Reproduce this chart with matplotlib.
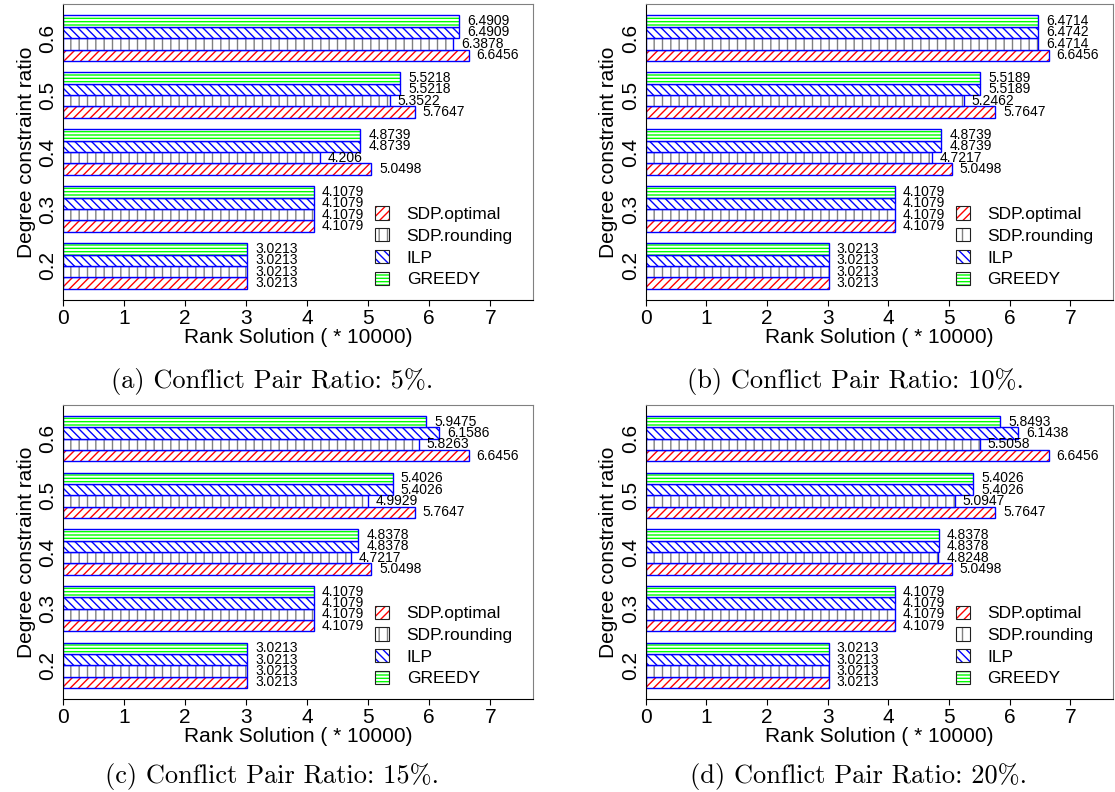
import matplotlib
matplotlib.use('Agg')
import matplotlib.pyplot as plt
import numpy as np
from matplotlib.patches import Patch
from matplotlib.legend_handler import HandlerTuple

plt.rcParams['font.family'] = ['Liberation Sans', 'DejaVu Sans']
plt.rcParams['hatch.linewidth'] = 1.0

# data
ratios = ['0.2', '0.3', '0.4', '0.5', '0.6']
series = ['SDP.optimal', 'SDP.rounding', 'ILP', 'GREEDY']

sdp_optimal = [3.0213, 4.1079, 5.0498, 5.7647, 6.6456]

a_rounding = [3.0213, 4.1079, 4.206, 5.3522, 6.3878]
a_ilp = [3.0213, 4.1079, 4.8739, 5.5218, 6.4909]
a_greedy = [3.0213, 4.1079, 4.8739, 5.5218, 6.4909]

b_rounding = [3.0213, 4.1079, 4.7217, 5.2462, 6.4714]
b_ilp = [3.0213, 4.1079, 4.8739, 5.5189, 6.4742]
b_greedy = [3.0213, 4.1079, 4.8739, 5.5189, 6.4714]

c_rounding = [3.0213, 4.1079, 4.7217, 4.9929, 5.8263]
c_ilp = [3.0213, 4.1079, 4.8378, 5.4026, 6.1586]
c_greedy = [3.0213, 4.1079, 4.8378, 5.4026, 5.9475]

d_rounding = [3.0213, 4.1079, 4.8248, 5.0947, 5.5058]
d_ilp = [3.0213, 4.1079, 4.8378, 5.4026, 6.1438]
d_greedy = [3.0213, 4.1079, 4.8378, 5.4026, 5.8493]

captions = ['(a) Conflict Pair Ratio: 5%.', '(b) Conflict Pair Ratio: 10%.',
            '(c) Conflict Pair Ratio: 15%.', '(d) Conflict Pair Ratio: 20%.']

panels = [
    [sdp_optimal, a_rounding, a_ilp, a_greedy],
    [sdp_optimal, b_rounding, b_ilp, b_greedy],
    [sdp_optimal, c_rounding, c_ilp, c_greedy],
    [sdp_optimal, d_rounding, d_ilp, d_greedy],
]

hatches = ['////', '||', '\\\\\\\\', '-----']
hcolors = ['#ff0000', '#808080', '#0000ff', '#00ff00']
offsets = [-0.3, -0.1, 0.1, 0.3]

fig = plt.figure(figsize=(11.15, 7.92), dpi=100)
boxes = [[0.0565, 0.621, 0.4215, 0.374],
         [0.579, 0.621, 0.419, 0.374],
         [0.0565, 0.117, 0.4215, 0.372],
         [0.579, 0.117, 0.419, 0.372]]
cap_pos = [(0.244, 0.518), (0.767, 0.518), (0.244, 0.02), (0.770, 0.02)]

centers = np.arange(1, len(ratios) + 1)

for p, vals in enumerate(panels):
    ax = fig.add_axes(boxes[p])
    for k in range(4):
        y = centers + offsets[k]
        # hatched fill
        ax.barh(y, vals[k], height=0.2, color='white', edgecolor=hcolors[k],
                hatch=hatches[k], linewidth=0)
        # blue outline
        ax.barh(y, vals[k], height=0.2, fill=False, edgecolor='#0000ff', linewidth=1.0)
        for yy, v in zip(y, vals[k]):
            ax.text(v + 0.13, yy, str(v), va='center', ha='left', fontsize=10)

    ax.set_xlim(0, 7.7)
    ax.set_ylim(0.4, 5.6)
    ax.set_xticks(range(8))
    ax.set_yticks(centers)
    ax.set_yticklabels(ratios, rotation=90, va='center')
    ax.tick_params(axis='x', direction='out', length=4, labelsize=15, pad=2)
    ax.tick_params(axis='y', length=0, labelsize=15, pad=4)
    ax.set_xlabel('Rank Solution ( * 10000)', fontsize=15, labelpad=0)
    ax.set_ylabel('Degree constraint ratio', fontsize=15, labelpad=2)
    ax.spines['top'].set_color('#808080')
    ax.spines['right'].set_color('#808080')

    handles = []
    for k in range(4):
        h1 = Patch(facecolor='white', edgecolor=hcolors[k], hatch=hatches[k], linewidth=0)
        h2 = Patch(fill=False, edgecolor='#202020', linewidth=0.8)
        handles.append((h1, h2))
    ax.legend(handles, series, handler_map={tuple: HandlerTuple(ndivide=1, pad=0)},
              loc='lower left', bbox_to_anchor=(0.65, 0.02), frameon=False,
              fontsize=12.5, handlelength=0.8, handleheight=0.8,
              handletextpad=1.0, labelspacing=0.35, borderaxespad=0)

    fig.text(cap_pos[p][0], cap_pos[p][1], captions[p], ha='center', va='center',
             fontsize=19, family=['cmr10', 'DejaVu Serif'])

fig.savefig('out.png', dpi=100)
